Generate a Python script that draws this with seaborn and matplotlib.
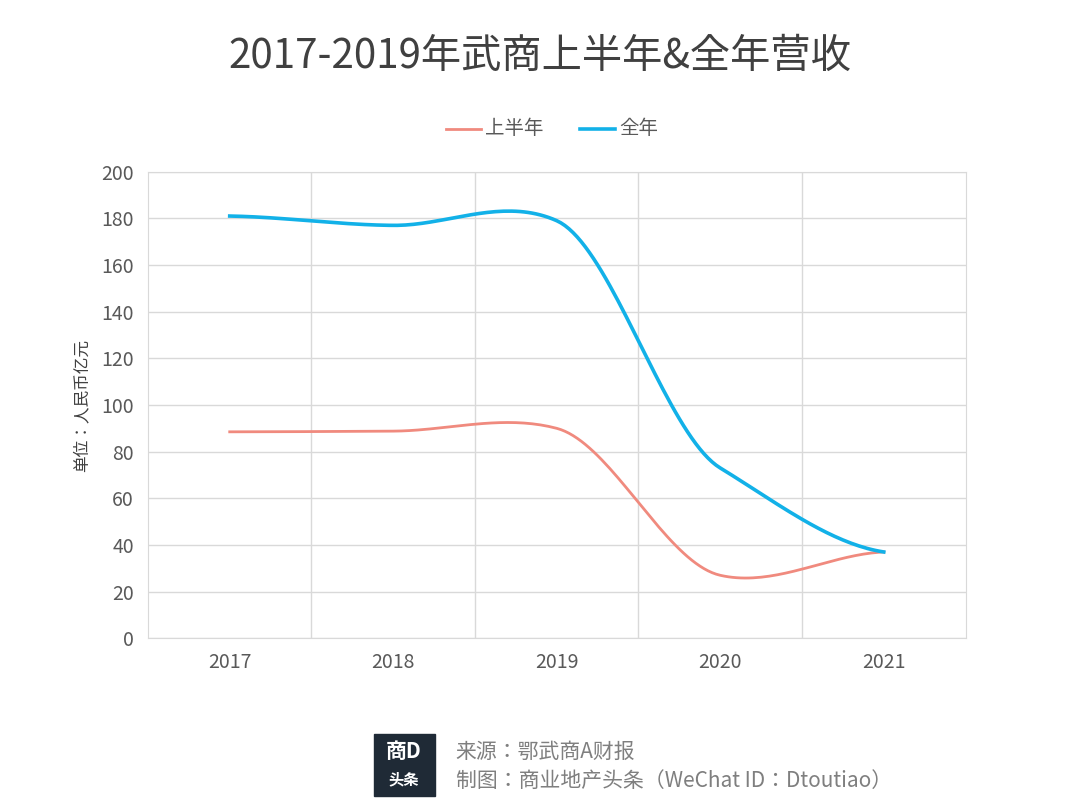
import numpy as np
import pandas as pd
import matplotlib.pyplot as plt
import seaborn as sns
from matplotlib.patches import FancyBboxPatch

plt.rcParams["font.family"] = ["Noto Sans CJK JP", "Noto Sans CJK SC", "DejaVu Sans"]

years = ["2017", "2018", "2019", "2020", "2021"]
half_year = [88.5, 88.8, 90.0, 27.0, 37.0]
full_year = [181.0, 177.0, 179.0, 73.0, 37.0]


def smooth(vals, n=40, k=0.3):
    # cardinal spline through the data points, like Excel's smoothed line
    p = np.array(vals, dtype=float)
    m = np.zeros_like(p)
    m[1:-1] = k * (p[2:] - p[:-2])
    m[0] = k * (p[1] - p[0])
    m[-1] = k * (p[-1] - p[-2])
    xs, ys = [], []
    for i in range(len(p) - 1):
        t = np.linspace(0, 1, n, endpoint=False)
        h00 = 2 * t ** 3 - 3 * t ** 2 + 1
        h10 = t ** 3 - 2 * t ** 2 + t
        h01 = -2 * t ** 3 + 3 * t ** 2
        h11 = t ** 3 - t ** 2
        y = h00 * p[i] + h10 * m[i] + h01 * p[i + 1] + h11 * m[i + 1]
        xs.extend(i + t)
        ys.extend(y)
    xs.append(len(vals) - 1)
    ys.append(vals[-1])
    return xs, ys


rows = []
for name, vals in [("上半年", half_year), ("全年", full_year)]:
    xs, ys = smooth(vals)
    rows += [{"x": a, "y": b, "series": name} for a, b in zip(xs, ys)]
df = pd.DataFrame(rows)

fig = plt.figure(figsize=(10.8, 8.1), dpi=100)
ax = fig.add_axes([0.137, 0.212, 0.757, 0.576])
sns.lineplot(data=df, x="x", y="y", hue="series", sort=False,
             palette={"上半年": "#f08a7e", "全年": "#12b1e8"}, ax=ax, legend=False)
for line, lw in zip(ax.lines, [2.0, 2.6]):
    line.set_linewidth(lw)

ax.set_xlim(-0.5, 4.5)
ax.set_ylim(0, 200)
ax.set_yticks(range(0, 201, 20))
ax.set_xticks(range(5))
ax.set_xticklabels(years)
ax.set_xticks([0.5, 1.5, 2.5, 3.5], minor=True)
ax.grid(which="minor", axis="x", color="#d9d9d9", lw=1)
ax.grid(which="major", axis="y", color="#d9d9d9", lw=1)
ax.tick_params(which="both", length=0, labelsize=14, colors="#595959", pad=10)
for s in ax.spines.values():
    s.set_color("#d9d9d9")
ax.set_xlabel("")
ax.set_ylabel("单位：人民币亿元", fontsize=12, color="#404040", labelpad=8)

fig.text(0.5, 0.93, "2017-2019年武商上半年&全年营收", ha="center", va="center",
         fontsize=29, color="#404040")
fig.lines += [plt.Line2D([0.413, 0.445], [0.841, 0.841], color="#f08a7e", lw=2, transform=fig.transFigure),
              plt.Line2D([0.537, 0.569], [0.841, 0.841], color="#12b1e8", lw=2.6, transform=fig.transFigure)]
fig.text(0.449, 0.841, "上半年", va="center", fontsize=14, color="#595959")
fig.text(0.573, 0.841, "全年", va="center", fontsize=14, color="#595959")

fig.patches.append(FancyBboxPatch((0.346, 0.017), 0.057, 0.077, boxstyle="square,pad=0",
                                  transform=fig.transFigure, color="#1f2a36"))
fig.text(0.374, 0.072, "商D", ha="center", va="center", fontsize=15, color="white",
         fontweight="bold", style="italic")
fig.text(0.374, 0.038, "头条", ha="center", va="center", fontsize=11, color="white", fontweight="bold")
fig.text(0.422, 0.072, "来源：鄂武商A财报", va="center", fontsize=15, color="#7f7f7f")
fig.text(0.422, 0.036, "制图：商业地产头条（WeChat ID：Dtoutiao）", va="center", fontsize=15, color="#7f7f7f")

fig.savefig("out.png", dpi=100, facecolor="white")
